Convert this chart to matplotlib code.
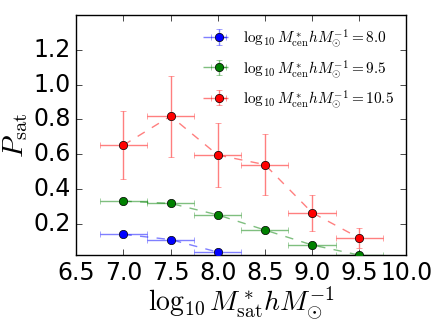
import numpy as np
import matplotlib
matplotlib.use("Agg")
import matplotlib.pyplot as plt

plt.style.use("classic")
plt.rcParams['mathtext.fontset'] = 'cm'
plt.rcParams['font.family'] = ['DejaVu Sans']

# satellite stellar mass bins
x = [7.0, 7.5, 8.0, 8.5, 9.0, 9.5]
xerr = 0.25

# P_sat for three central mass bins
p_80 = [0.139, 0.109, 0.037]
e_80 = [0.005, 0.004, 0.003]
p_95 = [0.330, 0.317, 0.251, 0.164, 0.078, 0.020]
e_95 = [0.010, 0.009, 0.008, 0.007, 0.006, 0.004]
p_105 = [0.652, 0.819, 0.595, 0.540, 0.264, 0.118]
e_105 = [0.195, 0.233, 0.185, 0.175, 0.103, 0.060]

labels = [r"$\log_{10}M^*_{\rm cen}hM_{\odot}^{-1}=8.0$",
          r"$\log_{10}M^*_{\rm cen}hM_{\odot}^{-1}=9.5$",
          r"$\log_{10}M^*_{\rm cen}hM_{\odot}^{-1}=10.5$"]
colors = ["blue", "green", "red"]

fig = plt.figure(figsize=(4.36, 3.27), dpi=100)
ax = fig.add_axes([0.175, 0.22, 0.757, 0.734])

handles = []
for p, e, c in zip([p_80, p_95, p_105], [e_80, e_95, e_105], colors):
    n = len(p)
    eb = ax.errorbar(x[:n], p, xerr=xerr, yerr=e, fmt="--", color=c, ecolor=c,
                     alpha=0.5, lw=1, capsize=2)
    mk, = ax.plot(x[:n], p, "o", color=c, mec="k", mew=0.5, ms=6, zorder=5)
    handles.append((eb, mk))

ax.set_xlim(6.5, 10.0)
ax.set_ylim(0.02, 1.4)
ax.set_yticks([0.2, 0.4, 0.6, 0.8, 1.0, 1.2])
ax.tick_params(labelsize=17)
ax.set_xlabel(r"$\log_{10}M^*_{\rm sat}hM_{\odot}^{-1}$", fontsize=20, labelpad=0)
ax.set_ylabel(r"$P_{\rm sat}$", fontsize=21, labelpad=2)

ax.legend(handles, labels, loc="upper right", frameon=False, fontsize=11,
          numpoints=1, handlelength=2.0, borderaxespad=0.4, labelspacing=0.55,
          handletextpad=0.6)

fig.savefig("out.png", dpi=100)
